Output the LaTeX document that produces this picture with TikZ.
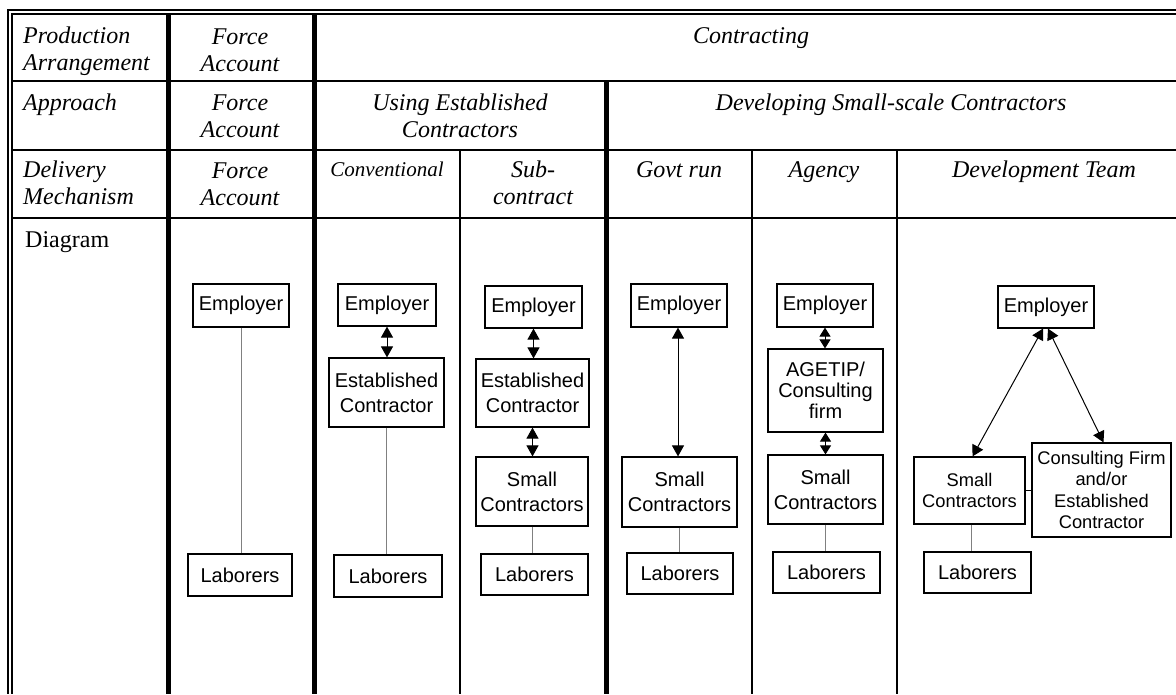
\documentclass[tikz,border=0pt]{standalone}
\usepackage{fontspec}
\setmainfont{Liberation Serif}
\setsansfont{Liberation Sans}
\usetikzlibrary{arrows.meta}

\begin{document}
\begin{tikzpicture}[x=1pt,y=-1pt,
hdr/.style={inner sep=0pt,align=center,anchor=base,font=\itshape\fontsize{24}{27}\selectfont},
lhdr/.style={hdr,align=left,anchor=base west},
box/.style={draw,line width=1.2pt,inner sep=0pt,align=center,font=\sffamily\fontsize{20}{25}\selectfont},
sbox/.style={box,font=\sffamily\fontsize{18.3}{21.5}\selectfont},
tie/.style={gray,line width=0.8pt},
link/.style={line width=1pt,arrows={Triangle[length=11pt,width=12pt]-Triangle[length=11pt,width=12pt]}},
slink/.style={line width=1pt,arrows={Triangle[length=9pt,width=11pt]-Triangle[length=9pt,width=11pt]}},
rule/.style={line width=2pt},
bar/.style={line width=5pt}]
\useasboundingbox (0,0) rectangle (1176,694);

\draw[rule] (7.3,10.3) -- (1176,10.3);
\draw[rule] (11,14.3) -- (1176,14.3);
\draw[rule] (8.3,9.3) -- (8.3,694);
\draw[rule] (12,13.3) -- (12,694);
\foreach \y in {81,150,218}
  \draw[rule] (12,\y) -- (1176,\y);
\draw[bar] (168,14) -- (168,694);
\draw[bar] (314.5,14) -- (314.5,694);
\draw[bar] (606,81) -- (606,694);
\foreach \x in {460,752,897}
  \draw[rule] (\x,150) -- (\x,694);

\node (prodarr) [lhdr] at (23,70) {Production\\Arrangement};
\node (forceA) [hdr] at (240,71) {Force\\Account};
\node (contr) [hdr] at (751,43) {Contracting};
\node (approach) [lhdr] at (23,110) {Approach};
\node (forceB) [hdr] at (240,137) {Force\\Account};
\node (usingest) [hdr] at (460,137) {Using Established\\Contractors};
\node (devsmall) [hdr] at (891,110) {Developing Small-scale Contractors};
\node (delivery) [lhdr] at (23,204) {Delivery\\Mechanism};
\node (forceC) [hdr] at (240,205) {Force\\Account};
\node (conv) [hdr,font=\itshape\fontsize{21}{25}\selectfont] at (387,176) {Conventional};
\node (subc) [hdr] at (533,204) {Sub-\\contract};
\node (govt) [hdr] at (679,177) {Govt run};
\node (agency) [hdr] at (824,177) {Agency};
\node (devteam) [hdr] at (1044,177) {Development Team};
\node (diag) [lhdr,font=\fontsize{24}{27}\selectfont] at (25,247) {Diagram};

\node (emp1) [box,minimum width=96pt,minimum height=43pt] at (241,305.5) {Employer};
\node (lab1) [box,minimum width=104pt,minimum height=42pt] at (240,575) {Laborers};

\node (emp2) [box,minimum width=98pt,minimum height=42pt] at (387,305) {Employer};
\node (est2) [box,minimum width=115pt,minimum height=69pt] at (386.5,392.5) {Established\\Contractor};
\node (lab2) [box,minimum width=108pt,minimum height=42pt] at (388,576) {Laborers};

\node (emp3) [box,minimum width=97pt,minimum height=42pt] at (533.5,307) {Employer};
\node (est3) [box,minimum width=113pt,minimum height=68pt] at (532.5,393) {Established\\Contractor};
\node (sml3) [box,minimum width=112pt,minimum height=69pt] at (532,491.5) {Small\\Contractors};
\node (lab3) [box,minimum width=107pt,minimum height=41pt] at (534.5,574.5) {Laborers};

\node (emp4) [box,minimum width=96pt,minimum height=43pt] at (679,305.5) {Employer};
\node (sml4) [box,minimum width=115pt,minimum height=70pt] at (679.5,492) {Small\\Contractors};
\node (lab4) [box,minimum width=106pt,minimum height=41pt] at (680,573.5) {Laborers};

\node (emp5) [box,minimum width=96pt,minimum height=43pt] at (825,305.5) {Employer};
\node (age5) [box,minimum width=115pt,minimum height=83pt,font=\sffamily\fontsize{20}{21}\selectfont] at (825.5,390.5) {AGETIP/\\Consulting\\firm};
\node (sml5) [box,minimum width=115pt,minimum height=69pt] at (825.5,489.5) {Small\\Contractors};
\node (lab5) [box,minimum width=107pt,minimum height=41pt] at (826.5,572.5) {Laborers};

\node (emp6) [box,minimum width=96pt,minimum height=42pt] at (1046,307) {Employer};
\node (sml6) [sbox,minimum width=111pt,minimum height=67pt] at (969.5,490.5) {Small\\Contractors};
\node (cons6) [sbox,minimum width=139pt,minimum height=94pt] at (1101.5,490) {Consulting Firm\\and/or\\Established\\Contractor};
\node (lab6) [box,minimum width=107pt,minimum height=41pt] at (977.5,572.5) {Laborers};

\draw[tie] (emp1.south) -- (emp1.south |- lab1.north);
\draw[tie] (est2.south) -- (est2.south |- lab2.north);
\draw[tie] (sml3.south) -- (sml3.south |- lab3.north);
\draw[tie] (sml4.south) -- (sml4.south |- lab4.north);
\draw[tie] (sml5.south) -- (sml5.south |- lab5.north);
\draw[tie] ([xshift=2pt]sml6.south) -- ([xshift=2pt]sml6.south |- lab6.north);

\draw[link] (emp2.south) -- (emp2.south |- est2.north);
\draw[link] (emp3.south) -- (emp3.south |- est3.north);
\draw[link] (est3.south) -- (est3.south |- sml3.north);
\draw[link] ([xshift=-1pt]emp4.south) -- ([xshift=-1pt]emp4.south |- sml4.north);
\draw[slink] (emp5.south) -- (emp5.south |- age5.north);
\draw[slink] (age5.south) -- (age5.south |- sml5.north);
\draw[link] ([xshift=-3pt]emp6.south) -- ([xshift=3pt]sml6.north);
\draw[link] ([xshift=2pt]emp6.south) -- ([xshift=2pt]cons6.north);
\draw[line width=1pt] (sml6.east) -- (sml6.east -| cons6.west);
\end{tikzpicture}
\end{document}
